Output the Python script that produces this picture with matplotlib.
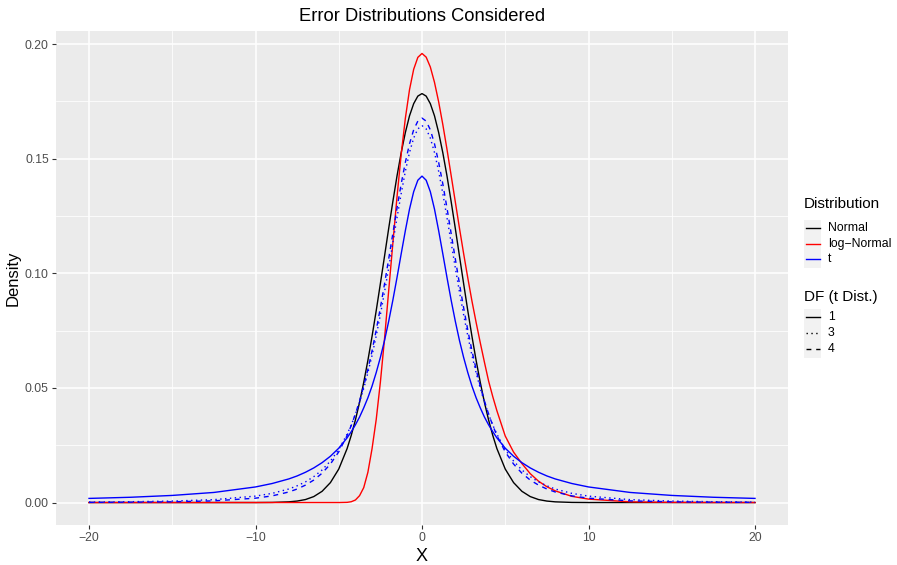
import matplotlib
matplotlib.use("Agg")
import matplotlib.pyplot as plt
from matplotlib.lines import Line2D
from matplotlib.patches import Rectangle
from matplotlib.ticker import MultipleLocator, FormatStrFormatter

plt.rcParams['font.family'] = ['Liberation Sans', 'DejaVu Sans']

# ---------------------------------------------------------------------------
# data
# ---------------------------------------------------------------------------
x = [-20, -17.5, -15, -12.5, -10, -9, -8, -7.5, -7, -6.5, -6, -5.5, -5,
     -4.5, -4.25, -4, -3.75, -3.5, -3.25, -3, -2.75, -2.5, -2.25, -2,
     -1.75, -1.5, -1.25, -1, -0.75, -0.5, -0.25, 0,
     0.25, 0.5, 0.75, 1, 1.25, 1.5, 1.75, 2, 2.25, 2.5, 2.75, 3, 3.25, 3.5,
     3.75, 4, 4.25, 4.5, 5, 5.5, 6, 6.5, 7, 7.5, 8, 9, 10, 12.5, 15, 17.5, 20]

normal = [0, 0, 0, 0, 0, 0.00005, 0.0003, 0.00064, 0.0013, 0.0026, 0.0049,
          0.0087, 0.0146, 0.0235, 0.0293, 0.0360, 0.0437, 0.0524, 0.0620,
          0.0725, 0.0837, 0.0955, 0.1075, 0.1196,
          0.1313, 0.1425, 0.1526, 0.1614, 0.1687, 0.1740, 0.1773, 0.1784,
          0.1773, 0.1740, 0.1687, 0.1614, 0.1526, 0.1425, 0.1313, 0.1196,
          0.1075, 0.0955, 0.0837, 0.0725, 0.0620, 0.0524, 0.0437, 0.0360,
          0.0293, 0.0235, 0.0146, 0.0087, 0.0049, 0.0026, 0.0013, 0.00064,
          0.0003, 0.00005, 0, 0, 0, 0, 0]

log_normal = [0, 0, 0, 0, 0, 0, 0, 0, 0, 0, 0, 0, 0,
              0.00008, 0.00035, 0.0011, 0.0030, 0.0065, 0.0132, 0.0235,
              0.0362, 0.0525, 0.0715, 0.0925,
              0.1131, 0.1334, 0.1519, 0.1676, 0.1801, 0.1890, 0.1942, 0.1959,
              0.1943, 0.1900, 0.1833, 0.1748, 0.1649, 0.1541, 0.1427, 0.1312,
              0.1197, 0.1086, 0.0980, 0.0879, 0.0786, 0.0697, 0.0612, 0.0530,
              0.0462, 0.0400, 0.0290, 0.0220, 0.0170, 0.0126, 0.0093, 0.0069,
              0.0051, 0.0027, 0.0015, 0.0003, 0.00007, 0.00001, 0]

t_df1 = [0.0018, 0.0023, 0.0031, 0.0044, 0.0068, 0.0083, 0.0103, 0.0116,
         0.0132, 0.0151, 0.0174, 0.0202, 0.0237, 0.0282, 0.0309, 0.0339,
         0.0373, 0.0413, 0.0457, 0.0508, 0.0567, 0.0633, 0.0707, 0.0791,
         0.0883, 0.0982, 0.1085, 0.1186, 0.1280, 0.1356, 0.1406, 0.1424,
         0.1406, 0.1356, 0.1280, 0.1186, 0.1085, 0.0982, 0.0883, 0.0791,
         0.0707, 0.0633, 0.0567, 0.0508, 0.0457, 0.0413, 0.0373, 0.0339,
         0.0309, 0.0282, 0.0237, 0.0202, 0.0174, 0.0151, 0.0132, 0.0116,
         0.0103, 0.0083, 0.0068, 0.0044, 0.0031, 0.0023, 0.0018]

t_df3 = [0.00021, 0.00036, 0.00064, 0.00126, 0.0028, 0.0040, 0.0059, 0.0073,
         0.0090, 0.0113, 0.0142, 0.0181, 0.0231, 0.0298, 0.0338, 0.0385,
         0.0438, 0.0498, 0.0566, 0.0642, 0.0727, 0.0819, 0.0919, 0.1024,
         0.1134, 0.1243, 0.1348, 0.1445, 0.1527, 0.1590, 0.1630, 0.1644,
         0.1630, 0.1590, 0.1527, 0.1445, 0.1348, 0.1243, 0.1134, 0.1024,
         0.0919, 0.0819, 0.0727, 0.0642, 0.0566, 0.0498, 0.0438, 0.0385,
         0.0338, 0.0298, 0.0231, 0.0181, 0.0142, 0.0113, 0.0090, 0.0073,
         0.0059, 0.0040, 0.0028, 0.00126, 0.00064, 0.00036, 0.00021]

t_df4 = [0.00008, 0.00016, 0.00032, 0.00073, 0.0019, 0.0029, 0.0046, 0.0059,
         0.0076, 0.0098, 0.0128, 0.0168, 0.0221, 0.0292, 0.0336, 0.0386,
         0.0443, 0.0508, 0.0581, 0.0662, 0.0752, 0.0850, 0.0954, 0.1063,
         0.1174, 0.1285, 0.1390, 0.1484, 0.1565, 0.1626, 0.1664, 0.1677,
         0.1664, 0.1626, 0.1565, 0.1484, 0.1390, 0.1285, 0.1174, 0.1063,
         0.0954, 0.0850, 0.0752, 0.0662, 0.0581, 0.0508, 0.0443, 0.0386,
         0.0336, 0.0292, 0.0221, 0.0168, 0.0128, 0.0098, 0.0076, 0.0059,
         0.0046, 0.0029, 0.0019, 0.00073, 0.00032, 0.00016, 0.00008]

dist_labels = ['Normal', 'log\u2212Normal', 't']
dist_colors = ['black', '#FF0000', '#0000FF']
df_labels = ['1', '3', '4']

# ---------------------------------------------------------------------------
# figure, ggplot-ish look
# ---------------------------------------------------------------------------
W, H = 897, 565
fig = plt.figure(figsize=(W / 100, H / 100), dpi=100)
ax = fig.add_axes([55.7 / W, 1 - 525 / H, 732.6 / W, 494 / H])

ax.set_facecolor('#EBEBEB')
for s in ax.spines.values():
    s.set_visible(False)

ax.set_xlim(-22, 22)
ax.set_ylim(-0.0098, 0.2057)
ax.xaxis.set_major_locator(MultipleLocator(10))
ax.xaxis.set_minor_locator(MultipleLocator(5))
ax.yaxis.set_major_locator(MultipleLocator(0.05))
ax.yaxis.set_minor_locator(MultipleLocator(0.025))
ax.yaxis.set_major_formatter(FormatStrFormatter('%.2f'))

ax.grid(which='major', color='white', linewidth=1.1)
ax.grid(which='minor', color='white', linewidth=0.55)
ax.set_axisbelow(True)
ax.tick_params(which='major', length=3, width=0.8, color='#333333',
               labelsize=8.8, labelcolor='#4D4D4D', pad=2)
ax.tick_params(which='minor', length=0)

lw = 1.0
ax.plot(x, normal, color=dist_colors[0], lw=lw)
ax.plot(x, log_normal, color=dist_colors[1], lw=lw)
ax.plot(x, t_df1, color=dist_colors[2], lw=lw)
ax.plot(x, t_df3, color=dist_colors[2], lw=lw, dashes=(1, 2.5))
ax.plot(x, t_df4, color=dist_colors[2], lw=lw, dashes=(3.5, 3.5))

ax.set_title('Error Distributions Considered', fontsize=13.2, pad=7)
ax.set_xlabel('X', fontsize=13, labelpad=3)
ax.set_ylabel('Density', fontsize=12, labelpad=3)

# ---------------------------------------------------------------------------
# legends, drawn by hand in pixel positions
# ---------------------------------------------------------------------------
def fx(px):
    return px / W


def fy(py):
    return 1 - py / H


def legend_block(title, title_y, row_ys, labels, colors, styles):
    fig.text(fx(804), fy(title_y), title, fontsize=11, va='center', ha='left')
    top = row_ys[0] - 8.5
    bot = row_ys[-1] + 8.5
    fig.add_artist(Rectangle((fx(804), fy(bot)), fx(821) - fx(804),
                             fy(top) - fy(bot), transform=fig.transFigure,
                             facecolor='#F2F2F2', edgecolor='none'))
    for y, lab, col, st in zip(row_ys, labels, colors, styles):
        ln = Line2D([fx(806), fx(819.5)], [fy(y), fy(y)], color=col, lw=lw,
                    transform=fig.transFigure)
        if st is not None:
            ln.set_dashes(st)
        fig.add_artist(ln)
        fig.text(fx(828), fy(y), lab, fontsize=8.8, va='center', ha='left')


legend_block('Distribution', 204, [228, 243.5, 259], dist_labels,
             dist_colors, [None, None, None])
legend_block('DF (t Dist.)', 297, [317, 333, 349], df_labels,
             ['black'] * 3, [None, (1, 2.5), (3.5, 3.5)])

fig.savefig('out.png', dpi=100)
